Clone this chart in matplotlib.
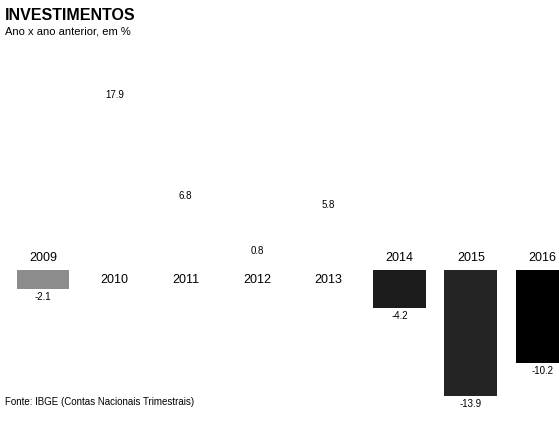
import numpy as np
import matplotlib.pyplot as plt

plt.rcParams['font.family'] = ['Liberation Sans', 'DejaVu Sans']

anos = ['2009', '2010', '2011', '2012', '2013', '2014', '2015', '2016']
valores = [-2.1, 17.9, 6.8, 0.8, 5.8, -4.2, -13.9, -10.2]
rotulos = ['-2.1', '17.9', '6.8', '0.8', '5.8', '-4.2', '-13.9', '-10.2']
cores = ['#8c8c8c', 'white', 'white', 'white', 'white', '#1c1c1c', '#242424', '#000000']

fig = plt.figure(figsize=(5.59, 4.24), dpi=100)
ax = fig.add_axes([0, 0, 1, 1])

x = np.arange(len(anos))
ax.bar(x, valores, width=0.74, color=cores, edgecolor='none')

# posicoes em pixels -> limites dos eixos
esp = 71.3
c0 = 43
ax.set_xlim(-c0 / esp, (559 - c0) / esp)
base = 270
ppu = 9.1
ax.set_ylim(-(424 - base) / ppu, base / ppu)
ax.axis('off')

for xi, v, lab, ano in zip(x, valores, rotulos, anos):
    if v >= 0:
        ax.annotate(lab, (xi, v), xytext=(0, 5), textcoords='offset points',
                    ha='center', va='bottom', fontsize=7)
        ax.annotate(ano, (xi, 0), xytext=(0, -3), textcoords='offset points',
                    ha='center', va='top', fontsize=9)
    else:
        ax.annotate(lab, (xi, v), xytext=(0, -2), textcoords='offset points',
                    ha='center', va='top', fontsize=7)
        ax.annotate(ano, (xi, 0), xytext=(0, 4), textcoords='offset points',
                    ha='center', va='bottom', fontsize=9)

fig.text(5 / 559, 1 - 16 / 424, 'INVESTIMENTOS', fontsize=11.5, fontweight='heavy',
         va='center', ha='left')
fig.text(5 / 559, 1 - 32 / 424, 'Ano x ano anterior, em %', fontsize=8,
         va='center', ha='left')
fig.text(5 / 559, 1 - 402 / 424, 'Fonte: IBGE (Contas Nacionais Trimestrais)',
         fontsize=7, va='center', ha='left')

fig.savefig('out.png', dpi=100, facecolor='white')
